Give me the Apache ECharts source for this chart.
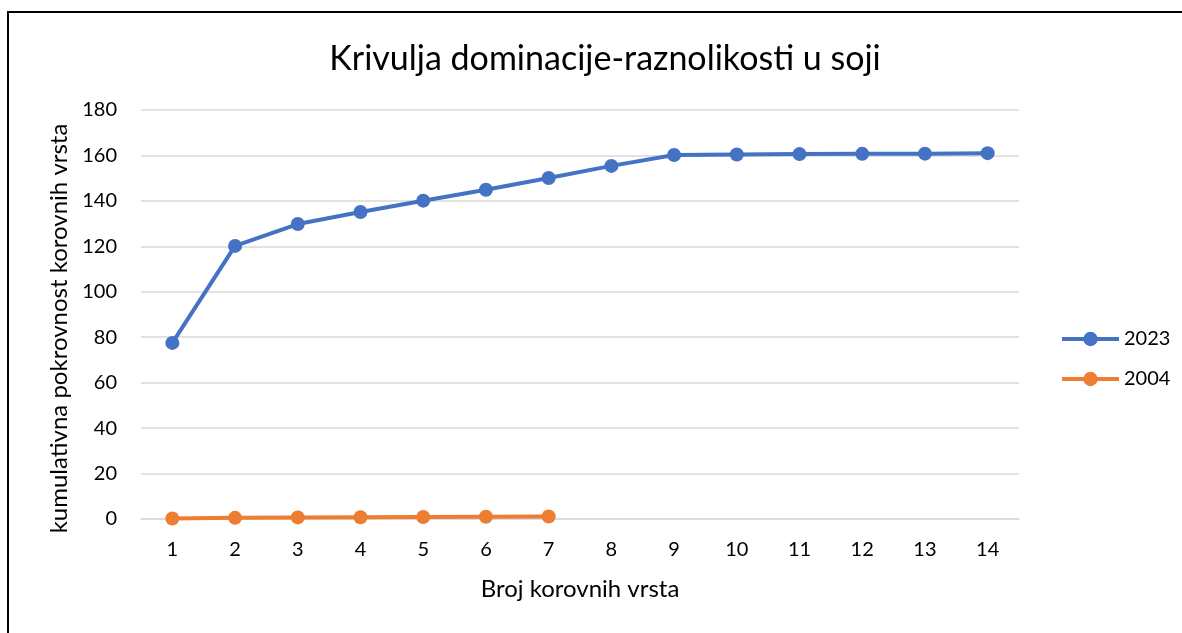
<!DOCTYPE html>
<html>
<head>
<meta charset="utf-8">
<script src="https://cdn.jsdelivr.net/npm/echarts@6/dist/echarts.min.js"></script>
<style>
  html, body { margin: 0; padding: 0; background: #fff; overflow: hidden; }
  #frame { position: absolute; left: 7px; top: 11px; width: 1200px; height: 650px; border: 2px solid #000; }
  #chart { position: absolute; left: 0; top: 0; width: 1182px; height: 633px; }
</style>
</head>
<body>
<div id="frame"></div>
<div id="chart"></div>
<script>
var categories = ['1', '2', '3', '4', '5', '6', '7', '8', '9', '10', '11', '12', '13', '14'];
var values2023 = [77.5, 120.2, 129.8, 135.1, 140.1, 144.9, 150.1, 155.4, 160.2, 160.4, 160.6, 160.7, 160.8, 161];
var values2004 = [0.2, 0.5, 0.7, 0.8, 0.9, 1.0, 1.1];
var yTicks = [0, 20, 40, 60, 80, 100, 120, 140, 160, 180];

var font = 'Lato, "Open Sans", sans-serif';
var chart = echarts.init(document.getElementById('chart'));

function lineSeries(name, data, color) {
    return {
        name: name,
        type: 'line',
        data: data,
        symbol: 'circle',
        symbolSize: 14,
        lineStyle: { width: 4, color: color },
        itemStyle: { color: color },
        emphasis: { disabled: true },
        animation: false
    };
}

var option = {
    textStyle: { fontFamily: font },
    title: {
        text: 'Krivulja dominacije-raznolikosti u soji',
        left: 600,
        textAlign: 'center',
        top: 37,
        textStyle: { fontSize: 34, fontWeight: 'normal', color: '#000', fontFamily: font }
    },
    legend: {
        orient: 'vertical',
        left: 1055,
        top: 324,
        itemWidth: 57,
        itemHeight: 18,
        itemGap: 20,
        lineStyle: { width: 4 },
        textStyle: { fontSize: 20, color: '#000', fontFamily: font },
        data: ['2023', '2004']
    },
    grid: { left: 141, right: 163, top: 110, bottom: 114 },
    xAxis: {
        type: 'category',
        data: categories,
        boundaryGap: true,
        name: 'Broj korovnih vrsta',
        nameLocation: 'middle',
        nameGap: 58,
        nameTextStyle: { fontSize: 24, color: '#000', fontFamily: font },
        axisLine: { lineStyle: { color: '#d9d9d9', width: 1.5 } },
        axisTick: { show: false },
        axisLabel: { fontSize: 20, color: '#000', margin: 21, fontFamily: font },
        splitLine: { show: false }
    },
    yAxis: {
        type: 'value',
        min: yTicks[0],
        max: yTicks[yTicks.length - 1],
        interval: 20,
        name: 'kumulativna pokrovnost korovnih vrsta',
        nameLocation: 'middle',
        nameGap: 69,
        nameTextStyle: { fontSize: 24, color: '#000', fontFamily: font, padding: [0, 28, 0, 0] },
        axisLine: { show: false },
        axisTick: { show: false },
        axisLabel: { fontSize: 20, color: '#000', margin: 24, fontFamily: font },
        splitLine: { lineStyle: { color: '#d9d9d9', width: 1.5 } }
    },
    series: [
        lineSeries('2023', values2023, '#4472C4'),
        lineSeries('2004', values2004, '#ED7D31')
    ]
};

chart.setOption(option);
</script>
</body>
</html>
